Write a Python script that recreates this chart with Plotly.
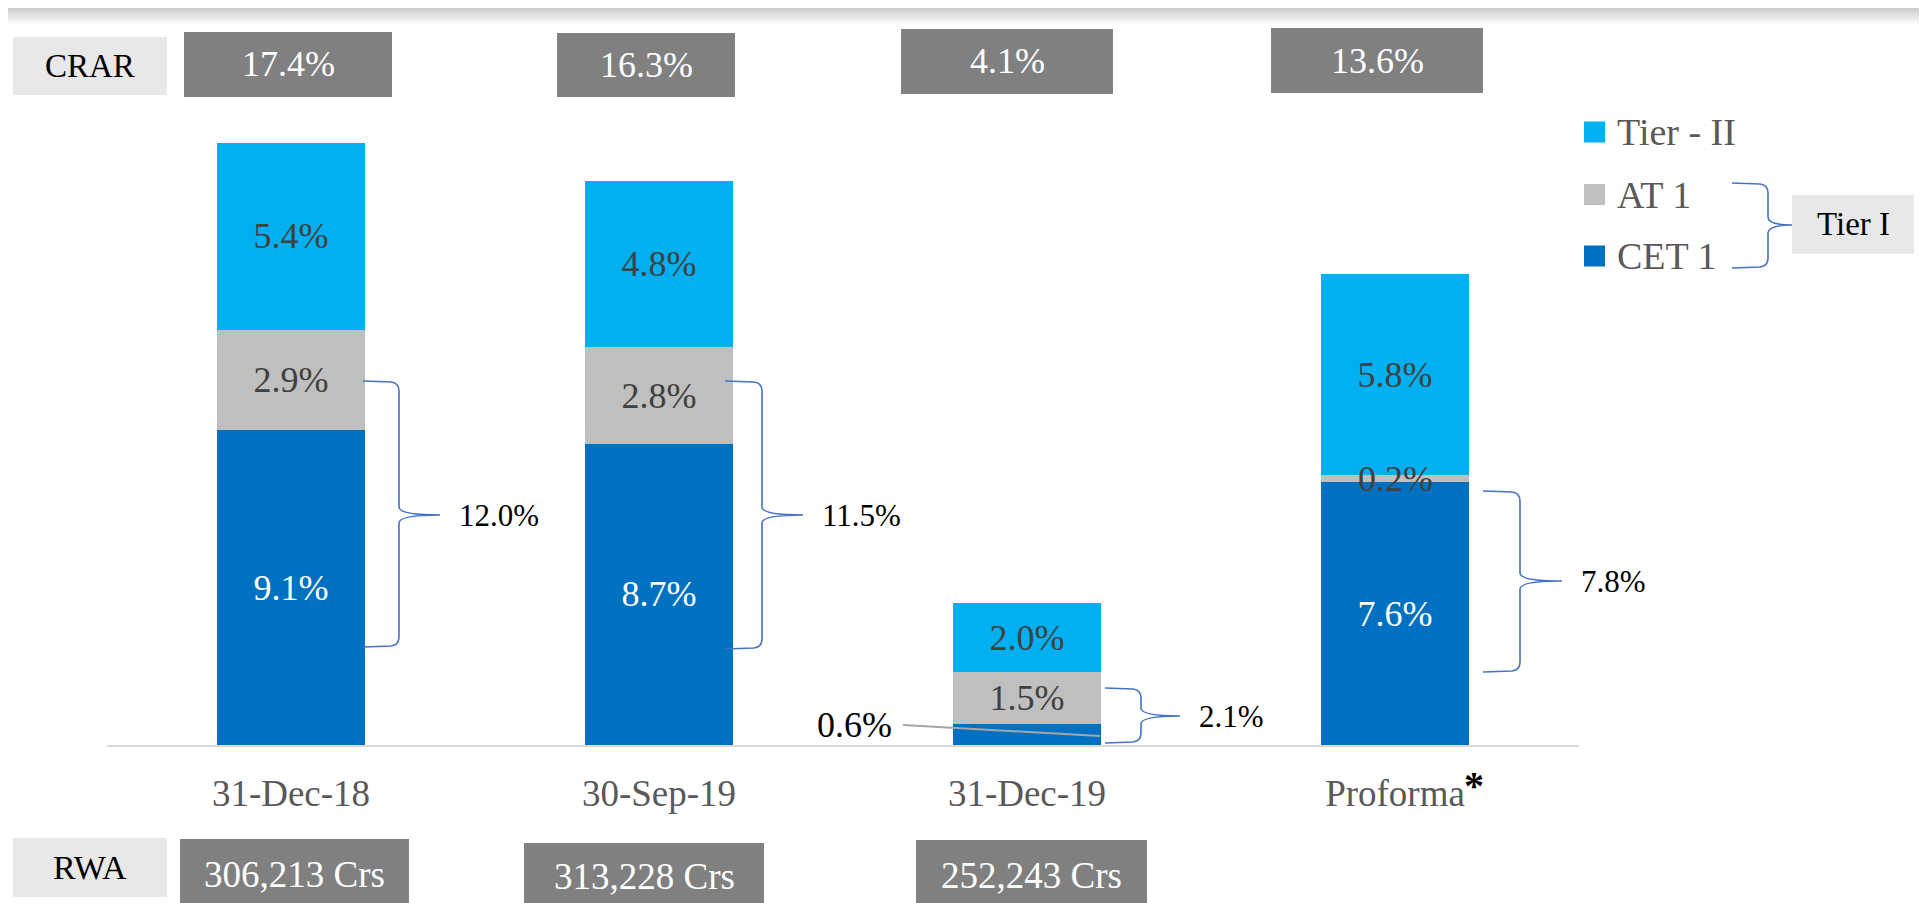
import plotly.graph_objects as go

# ---- data -------------------------------------------------------------
periods = ["31-Dec-18", "30-Sep-19", "31-Dec-19", "Proforma"]
cet1 = [9.1, 8.7, 0.6, 7.6]
at1 = [2.9, 2.8, 1.5, 0.2]
tier2 = [5.4, 4.8, 2.0, 5.8]
crar = ["17.4%", "16.3%", "4.1%", "13.6%"]
rwa = ["306,213 Crs", "313,228 Crs", "252,243 Crs"]

# colours / fonts
C_CET = "#0070C0"
C_AT1 = "#BFBFBF"
C_T2 = "#00B0F0"
C_BOX = "#808080"
C_LBL = "#E8E8E8"
C_BRACE = "#4472C4"
FONT = "Liberation Serif"

# page geometry: the page body adds an 8px margin, positions below are screen px
OFF = 8
W, H = 1927 - OFF, 903 - OFF
PLOT_L, PLOT_R, PLOT_T, BASE = 107, 1579, 53, 745
PW, PH = PLOT_R - PLOT_L, BASE - PLOT_T
Y_MAX = 20


def px_x(px):
    return (px - PLOT_L) / PW


def px_y(py):
    return (BASE - py) / PH


def pct(v):
    return f"{v:.1f}%"


x = list(range(len(periods)))
fig = go.Figure()

# thin segments get their labels placed by hand further down
series = [
    ("CET 1", cet1, C_CET, "white"),
    ("AT 1", at1, C_AT1, "#404040"),
    ("Tier - II", tier2, C_T2, "#404040"),
]
for name, vals, col, tcol in series:
    fig.add_trace(go.Bar(
        x=x, y=vals, name=name, width=0.4,
        marker=dict(color=col, line=dict(width=0)),
        text=[pct(v) for v in vals],
        textposition=["inside" if v >= 1 else "none" for v in vals],
        insidetextanchor="middle",
        constraintext="none",
        insidetextfont=dict(family=FONT, size=36, color=tcol),
        hovertemplate=name + ": %{y:.1f}%<extra></extra>",
    ))

shapes = []
annos = []

# grey gradient band at the top
band_top, band_bot = 5, 25
n = band_bot - band_top
for i in range(n):
    g = int(195 + (255 - 195) * i / (n - 1))
    shapes.append(dict(type="rect", xref="paper", yref="paper",
                       x0=px_x(0), x1=px_x(1940), y0=px_y(band_top + i), y1=px_y(band_top + i + 1),
                       fillcolor=f"rgb({g},{g},{g})", line=dict(width=0), layer="below"))


def box(x0, x1, y0, y1, fill, text, tcol, size):
    shapes.append(dict(type="rect", xref="paper", yref="paper",
                       x0=px_x(x0), x1=px_x(x1), y0=px_y(y1), y1=px_y(y0),
                       fillcolor=fill, line=dict(width=0), layer="below"))
    annos.append(dict(xref="paper", yref="paper", x=px_x((x0 + x1) / 2), y=px_y((y0 + y1) / 2),
                      text=text, showarrow=False, xanchor="center", yanchor="middle",
                      font=dict(family=FONT, size=size, color=tcol)))


# CRAR row
box(13, 167, 37, 95, C_LBL, "CRAR", "black", 33)
crar_boxes = [(184, 392, 32, 97), (557, 735, 33, 97), (901, 1113, 29, 94), (1271, 1483, 28, 93)]
for (x0, x1, y0, y1), t in zip(crar_boxes, crar):
    box(x0, x1, y0, y1, C_BOX, t, "white", 36)

# RWA row
box(13, 167, 838, 897, C_LBL, "RWA", "black", 34)
rwa_boxes = [(180, 409, 839, 910), (524, 764, 843, 910), (916, 1147, 840, 910)]
for (x0, x1, y0, y1), t in zip(rwa_boxes, rwa):
    box(x0, x1, y0, y1, C_BOX, t, "white", 37)


def brace(x0, xv, xt, yt, ym, yb):
    r = 8
    pts = [
        ("M", [(x0, yt)]),
        ("L", [(xv - r, yt + 1)]),
        ("Q", [(xv, yt + 2), (xv, yt + r + 2)]),
        ("L", [(xv, ym - r)]),
        ("Q", [(xv, ym), (xt, ym)]),
        ("Q", [(xv, ym), (xv, ym + r)]),
        ("L", [(xv, yb - r - 2)]),
        ("Q", [(xv, yb - 2), (xv - r, yb - 1)]),
        ("L", [(x0, yb)]),
    ]
    d = ""
    for cmd, ps in pts:
        d += cmd + " ".join(f"{px_x(a):.5f},{px_y(b):.5f}" for a, b in ps) + " "
    shapes.append(dict(type="path", xref="paper", yref="paper", path=d.strip(),
                       line=dict(color=C_BRACE, width=1.6)))


# Tier I braces next to each bar
tier1 = [c + a for c, a in zip(cet1, at1)]
brace_geo = [
    (363, 399, 440, 381, 515, 647),
    (725, 762, 803, 381, 515, 649),
    (1105, 1141, 1180, 688, 716, 743),
    (1483, 1520, 1562, 491, 581, 672),
]
for (x0, xv, xt, yt, ym, yb), v in zip(brace_geo, tier1):
    brace(x0, xv, xt, yt, ym, yb)
    annos.append(dict(xref="paper", yref="paper", x=px_x(xt + 17), y=px_y(ym),
                      text=pct(v), showarrow=False, xanchor="left", yanchor="middle",
                      font=dict(family=FONT, size=31, color="black")))

# labels for thin segments
annos.append(dict(xref="paper", yref="paper", x=px_x(854), y=px_y(725),
                  text=pct(cet1[2]), showarrow=False, xanchor="center", yanchor="middle",
                  font=dict(family=FONT, size=36, color="black")))
shapes.append(dict(type="line", xref="paper", yref="paper",
                   x0=px_x(903), y0=px_y(725), x1=px_x(1100), y1=px_y(736),
                   line=dict(color="#A6A6A6", width=2)))
annos.append(dict(xref="x", yref="y", x=x[3], y=cet1[3] + at1[3] / 2,
                  text=pct(at1[3]), showarrow=False, xanchor="center", yanchor="middle",
                  font=dict(family=FONT, size=36, color="#404040")))

# footnote marker after the Proforma tick label
annos.append(dict(xref="x", yref="paper", x=x[3], xshift=79, y=px_y(785),
                  text="<b>*</b>", showarrow=False, xanchor="center", yanchor="middle",
                  font=dict(family=FONT, size=40, color="black")))

# manual legend
legend_items = [("Tier - II", C_T2, 132), ("AT 1", C_AT1, 194.5), ("CET 1", C_CET, 256)]
for name, col, cy in legend_items:
    shapes.append(dict(type="rect", xref="paper", yref="paper",
                       x0=px_x(1584), x1=px_x(1605), y0=px_y(cy + 10.5), y1=px_y(cy - 10.5),
                       fillcolor=col, line=dict(width=0)))
    annos.append(dict(xref="paper", yref="paper", x=px_x(1615), y=px_y(cy),
                      text=name, showarrow=False, xanchor="left", yanchor="middle",
                      font=dict(family=FONT, size=38, color="#595959")))
brace(1732, 1768, 1792, 183, 225, 268)
box(1792, 1914, 195, 254, C_LBL, "Tier I", "black", 33)

fig.update_layout(
    width=W, height=H,
    margin=dict(l=PLOT_L - OFF, r=W - (PLOT_R - OFF), t=PLOT_T - OFF, b=H - (BASE - OFF), pad=0),
    barmode="stack",
    showlegend=False,
    plot_bgcolor="white",
    paper_bgcolor="white",
    shapes=shapes,
    annotations=annos,
    xaxis=dict(
        range=[-0.5, len(periods) - 0.5],
        tickvals=x, ticktext=periods,
        tickfont=dict(family=FONT, size=37, color="#595959"),
        ticks="", ticklabelstandoff=15,
        showgrid=False, zeroline=False,
        showline=True, linecolor="#D9D9D9", linewidth=2,
    ),
    yaxis=dict(range=[0, Y_MAX], visible=False, showgrid=False, zeroline=False),
)

fig.write_html("out.html")
